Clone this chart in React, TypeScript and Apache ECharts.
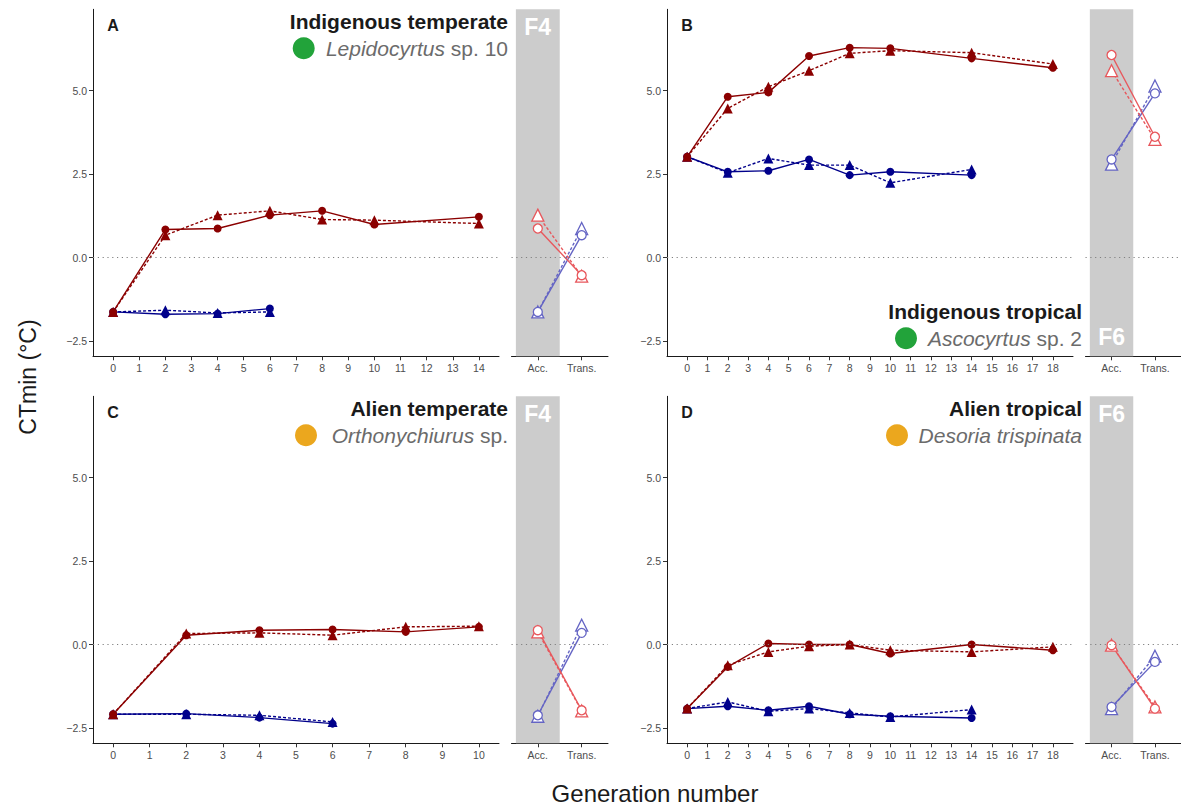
import React, { useEffect, useRef } from "react";
import * as echarts from "echarts";

// ---------------- DATA ----------------
const yTicks = [-2.5, 0, 2.5, 5];
const sideLabels = ["Acc.", "Trans."];
const ticksA = [0, 1, 2, 3, 4, 5, 6, 7, 8, 9, 10, 11, 12, 13, 14];
const ticksB = [0, 1, 2, 3, 4, 5, 6, 7, 8, 9, 10, 11, 12, 13, 14, 15, 16, 17, 18];
const ticksC = [0, 1, 2, 3, 4, 5, 6, 7, 8, 9, 10];
const ticksD = ticksB;

// Panel A – Indigenous temperate, Lepidocyrtus sp. 10
const genA_red = [0, 2, 4, 6, 8, 10, 14];
const genA_blue = [0, 2, 4, 6];
const A_redCircle = [-1.63, 0.84, 0.87, 1.27, 1.4, 0.99, 1.22];
const A_redTriangle = [-1.63, 0.67, 1.27, 1.4, 1.14, 1.12, 1.02];
const A_blueCircle = [-1.63, -1.7, -1.68, -1.53];
const A_blueTriangle = [-1.63, -1.58, -1.66, -1.63];
const A_sideRedCircle = [0.87, -0.53];
const A_sideRedTriangle = [1.27, -0.56];
const A_sideBlueCircle = [-1.63, 0.67];
const A_sideBlueTriangle = [-1.63, 0.87];

// Panel B – Indigenous tropical, Ascocyrtus sp. 2
const genB_red = [0, 2, 4, 6, 8, 10, 14, 18];
const genB_blue = [0, 2, 4, 6, 8, 10, 14];
const B_redCircle = [3.02, 4.82, 4.95, 6.04, 6.29, 6.27, 5.97, 5.69];
const B_redTriangle = [3.02, 4.47, 5.12, 5.6, 6.12, 6.2, 6.14, 5.8];
const B_blueCircle = [3.02, 2.57, 2.6, 2.94, 2.47, 2.57, 2.47];
const B_blueTriangle = [3.02, 2.54, 2.97, 2.77, 2.77, 2.24, 2.64];
const B_sideRedCircle = [6.07, 3.62];
const B_sideRedTriangle = [5.6, 3.54];
const B_sideBlueCircle = [2.94, 4.92];
const B_sideBlueTriangle = [2.8, 5.14];

// Panel C – Alien temperate, Orthonychiurus sp.
const genC_red = [0, 2, 4, 6, 8, 10];
const genC_blue = [0, 2, 4, 6];
const C_redCircle = [-2.09, 0.28, 0.43, 0.45, 0.38, 0.53];
const C_redTriangle = [-2.09, 0.33, 0.35, 0.28, 0.53, 0.55];
const C_blueCircle = [-2.09, -2.07, -2.19, -2.37];
const C_blueTriangle = [-2.09, -2.09, -2.12, -2.32];
const C_sideRedCircle = [0.43, -1.97];
const C_sideRedTriangle = [0.38, -1.99];
const C_sideBlueCircle = [-2.12, 0.35];
const C_sideBlueTriangle = [-2.15, 0.58];

// Panel D – Alien tropical, Desoria trispinata
const genD_red = [0, 2, 4, 6, 8, 10, 14, 18];
const genD_blue = [0, 2, 4, 6, 8, 10, 14];
const D_redCircle = [-1.92, -0.67, 0.03, 0.0, 0.0, -0.27, 0.0, -0.17];
const D_redTriangle = [-1.92, -0.62, -0.22, -0.05, 0.0, -0.17, -0.22, -0.07];
const D_blueCircle = [-1.92, -1.85, -1.97, -1.85, -2.09, -2.15, -2.2];
const D_blueTriangle = [-1.92, -1.72, -2.0, -1.92, -2.05, -2.17, -1.95];
const D_sideRedCircle = [-0.02, -1.92];
const D_sideRedTriangle = [-0.02, -1.87];
const D_sideBlueCircle = [-1.87, -0.52];
const D_sideBlueTriangle = [-1.92, -0.35];

// ---------------- STYLE / LAYOUT ----------------
const FONT = "'Liberation Sans', Arial, Helvetica, sans-serif";
const RED = "#8B0000";
const BLUE = "#00008B";
const LRED = "#E8575C";
const LBLUE = "#6464C4";
const GREEN = "#22A33A";
const ORANGE = "#EBA71E";
const Y_MIN = -2.96;
const Y_MAX = 7.44;

type Panel = {
  letter: string;
  mainLeft: number;
  sideLeft: number;
  top: number;
  ticks: number[];
  maxGen: number;
  genRed: number[];
  genBlue: number[];
  redCircle: number[];
  redTriangle: number[];
  blueCircle: number[];
  blueTriangle: number[];
  sideRedCircle: number[];
  sideRedTriangle: number[];
  sideBlueCircle: number[];
  sideBlueTriangle: number[];
  title: string;
  speciesRich: string;
  dotColor: string;
  dotX: number;
  titleAtBottom: boolean;
  fLabel: string;
  fAtBottom: boolean;
};

const MAIN_W = 406;
const SIDE_W = 96.5;
const PANEL_H = 347;

const panels: Panel[] = [
  {
    letter: "A", mainLeft: 93, sideLeft: 511.5, top: 9.3, ticks: ticksA, maxGen: 14,
    genRed: genA_red, genBlue: genA_blue,
    redCircle: A_redCircle, redTriangle: A_redTriangle, blueCircle: A_blueCircle, blueTriangle: A_blueTriangle,
    sideRedCircle: A_sideRedCircle, sideRedTriangle: A_sideRedTriangle, sideBlueCircle: A_sideBlueCircle, sideBlueTriangle: A_sideBlueTriangle,
    title: "Indigenous temperate", speciesRich: "{i|Lepidocyrtus}{n| sp. 10}", dotColor: GREEN, dotX: 303.7,
    titleAtBottom: false, fLabel: "F4", fAtBottom: false,
  },
  {
    letter: "B", mainLeft: 667, sideLeft: 1085.5, top: 9.3, ticks: ticksB, maxGen: 18,
    genRed: genB_red, genBlue: genB_blue,
    redCircle: B_redCircle, redTriangle: B_redTriangle, blueCircle: B_blueCircle, blueTriangle: B_blueTriangle,
    sideRedCircle: B_sideRedCircle, sideRedTriangle: B_sideRedTriangle, sideBlueCircle: B_sideBlueCircle, sideBlueTriangle: B_sideBlueTriangle,
    title: "Indigenous tropical", speciesRich: "{i|Ascocyrtus}{n| sp. 2}", dotColor: GREEN, dotX: 906,
    titleAtBottom: true, fLabel: "F6", fAtBottom: true,
  },
  {
    letter: "C", mainLeft: 93, sideLeft: 511.5, top: 396.3, ticks: ticksC, maxGen: 10,
    genRed: genC_red, genBlue: genC_blue,
    redCircle: C_redCircle, redTriangle: C_redTriangle, blueCircle: C_blueCircle, blueTriangle: C_blueTriangle,
    sideRedCircle: C_sideRedCircle, sideRedTriangle: C_sideRedTriangle, sideBlueCircle: C_sideBlueCircle, sideBlueTriangle: C_sideBlueTriangle,
    title: "Alien temperate", speciesRich: "{i|Orthonychiurus}{n| sp.}", dotColor: ORANGE, dotX: 306,
    titleAtBottom: false, fLabel: "F4", fAtBottom: false,
  },
  {
    letter: "D", mainLeft: 667, sideLeft: 1085.5, top: 396.3, ticks: ticksD, maxGen: 18,
    genRed: genD_red, genBlue: genD_blue,
    redCircle: D_redCircle, redTriangle: D_redTriangle, blueCircle: D_blueCircle, blueTriangle: D_blueTriangle,
    sideRedCircle: D_sideRedCircle, sideRedTriangle: D_sideRedTriangle, sideBlueCircle: D_sideBlueCircle, sideBlueTriangle: D_sideBlueTriangle,
    title: "Alien tropical", speciesRich: "{i|Desoria trispinata}", dotColor: ORANGE, dotX: 897,
    titleAtBottom: false, fLabel: "F6", fAtBottom: false,
  },
];

const fmtY = (v: number) => (v < 0 ? "\u2212" + Math.abs(v).toFixed(1) : v.toFixed(1));
const zip = (xs: number[], ys: number[]) => xs.map((x, i) => [x, ys[i]]);

function buildOption() {
  const grid: any[] = [];
  const xAxis: any[] = [];
  const yAxis: any[] = [];
  const series: any[] = [];
  const graphic: any[] = [];

  const axisLineStyle = { color: "#1a1a1a", width: 1 };
  const tickStyle = { color: "#333", width: 1 };
  const labelStyle = { color: "#4d4d4d", fontSize: 10.5, fontFamily: FONT };

  panels.forEach((p, idx) => {
    const gMain = idx * 2;
    const gSide = idx * 2 + 1;
    grid.push({ left: p.mainLeft, top: p.top, width: MAIN_W, height: PANEL_H, containLabel: false });
    grid.push({ left: p.sideLeft, top: p.top, width: SIDE_W, height: PANEL_H, containLabel: false });

    const pad = p.maxGen * 0.055;
    xAxis.push({
      type: "value", gridIndex: gMain, min: -pad, max: p.maxGen + pad,
      axisLine: { show: true, onZero: false, lineStyle: axisLineStyle },
      axisTick: { show: true, length: 4, lineStyle: tickStyle, customValues: p.ticks },
      axisLabel: { ...labelStyle, margin: 6, customValues: p.ticks, formatter: (v: number) => String(v) },
      splitLine: { show: false },
    });
    xAxis.push({
      type: "value", gridIndex: gSide, min: 0.4, max: 2.6,
      axisLine: { show: true, onZero: false, lineStyle: axisLineStyle },
      axisTick: { show: true, length: 4, lineStyle: tickStyle, customValues: [1, 2] },
      axisLabel: { ...labelStyle, margin: 6, customValues: [1, 2], formatter: (v: number) => sideLabels[Math.round(v) - 1] },
      splitLine: { show: false },
    });
    yAxis.push({
      type: "value", gridIndex: gMain, min: Y_MIN, max: Y_MAX,
      axisLine: { show: true, onZero: false, lineStyle: axisLineStyle },
      axisTick: { show: true, length: 4, lineStyle: tickStyle, customValues: yTicks },
      axisLabel: { ...labelStyle, margin: 6, customValues: yTicks, formatter: fmtY },
      splitLine: { show: false },
    });
    yAxis.push({ type: "value", gridIndex: gSide, min: Y_MIN, max: Y_MAX, show: false, splitLine: { show: false } });

    const zeroLine = {
      silent: true, symbol: ["none", "none"], label: { show: false },
      lineStyle: { type: [1.2, 3.6], color: "#808080", width: 1 },
      data: [{ yAxis: 0 }],
      animation: false,
    };
    // background elements: zero line and gray band
    series.push({
      type: "line", xAxisIndex: gMain, yAxisIndex: gMain, data: [], z: 1, silent: true,
      markLine: zeroLine,
    });
    series.push({
      type: "line", xAxisIndex: gSide, yAxisIndex: gSide, data: [], z: 1, silent: true,
      markArea: { silent: true, itemStyle: { color: "#CCCCCC" }, data: [[{ xAxis: 0.5 }, { xAxis: 1.5 }]] },
      markLine: zeroLine,
    });

    const mainLine = (xs: number[], ys: number[], color: string, symbol: string, dashed: boolean) => ({
      type: "line", xAxisIndex: gMain, yAxisIndex: gMain, data: zip(xs, ys),
      symbol, symbolSize: symbol === "circle" ? 8 : 10,
      itemStyle: { color }, lineStyle: { color, width: 1.4, type: dashed ? [3, 2] : "solid" },
      z: 3, silent: true,
    });
    series.push(mainLine(p.genBlue, p.blueTriangle, BLUE, "triangle", true));
    series.push(mainLine(p.genBlue, p.blueCircle, BLUE, "circle", false));
    series.push(mainLine(p.genRed, p.redTriangle, RED, "triangle", true));
    series.push(mainLine(p.genRed, p.redCircle, RED, "circle", false));

    const sideLine = (ys: number[], color: string, symbol: string, dashed: boolean) => ({
      type: "line", xAxisIndex: gSide, yAxisIndex: gSide, data: zip([1, 2], ys),
      symbol, symbolSize: symbol === "circle" ? 9 : 12,
      itemStyle: { color: "#ffffff", borderColor: color, borderWidth: 1.3 },
      lineStyle: { color, width: 1.4, type: dashed ? [3, 2] : "solid" },
      z: 3, silent: true,
    });
    series.push(sideLine(p.sideBlueTriangle, LBLUE, "triangle", true));
    series.push(sideLine(p.sideBlueCircle, LBLUE, "circle", false));
    series.push(sideLine(p.sideRedTriangle, LRED, "triangle", true));
    series.push(sideLine(p.sideRedCircle, LRED, "circle", false));

    // panel letter
    graphic.push({
      type: "text", x: p.mainLeft + 20, y: p.top + 16, z: 10,
      style: { text: p.letter, font: `bold 16px ${FONT}`, fill: "#1a1a1a", textAlign: "center", textVerticalAlign: "middle" },
    });
    // title + species
    const right = p.mainLeft + 415;
    const tY = p.titleAtBottom ? p.top + 302 : p.top + 11.7;
    const sY = p.titleAtBottom ? p.top + 329 : p.top + 39;
    graphic.push({
      type: "text", x: right, y: tY, z: 10,
      style: { text: p.title, font: `bold 21px ${FONT}`, fill: "#1a1a1a", textAlign: "right", textVerticalAlign: "middle" },
    });
    graphic.push({
      type: "text", x: right, y: sY, z: 10,
      style: {
        text: p.speciesRich, textAlign: "right", textVerticalAlign: "middle",
        rich: {
          i: { fontStyle: "italic", fontSize: 21, fontFamily: FONT, fill: "#6b6b6b" },
          n: { fontSize: 21, fontFamily: FONT, fill: "#6b6b6b" },
        },
      },
    });
    graphic.push({
      type: "circle", z: 10, shape: { cx: p.dotX, cy: sY, r: 11 }, style: { fill: p.dotColor },
    });
    // F label
    graphic.push({
      type: "text", x: p.sideLeft + 26.2, y: p.fAtBottom ? p.top + 327.5 : p.top + 17.5, z: 10,
      style: { text: p.fLabel, font: `bold 23px ${FONT}`, fill: "#ffffff", textAlign: "center", textVerticalAlign: "middle" },
    });
  });

  graphic.push({
    type: "text", x: 28, y: 377, rotation: Math.PI / 2, z: 10,
    style: { text: "CTmin (°C)", font: `23px ${FONT}`, fill: "#1a1a1a", textAlign: "center", textVerticalAlign: "middle" },
  });
  graphic.push({
    type: "text", x: 655, y: 793, z: 10,
    style: { text: "Generation number", font: `24px ${FONT}`, fill: "#1a1a1a", textAlign: "center", textVerticalAlign: "middle" },
  });

  return { animation: false, backgroundColor: "#ffffff", grid, xAxis, yAxis, series, graphic };
}

export default function App() {
  const ref = useRef<HTMLDivElement>(null);
  useEffect(() => {
    if (!ref.current) return;
    const chart = echarts.init(ref.current, undefined, { renderer: "svg" });
    chart.setOption(buildOption() as any);
    return () => chart.dispose();
  }, []);
  return (
    <div
      ref={ref}
      style={{ position: "absolute", left: 0, top: 0, width: 1181, height: 808, background: "#fff" }}
    />
  );
}
